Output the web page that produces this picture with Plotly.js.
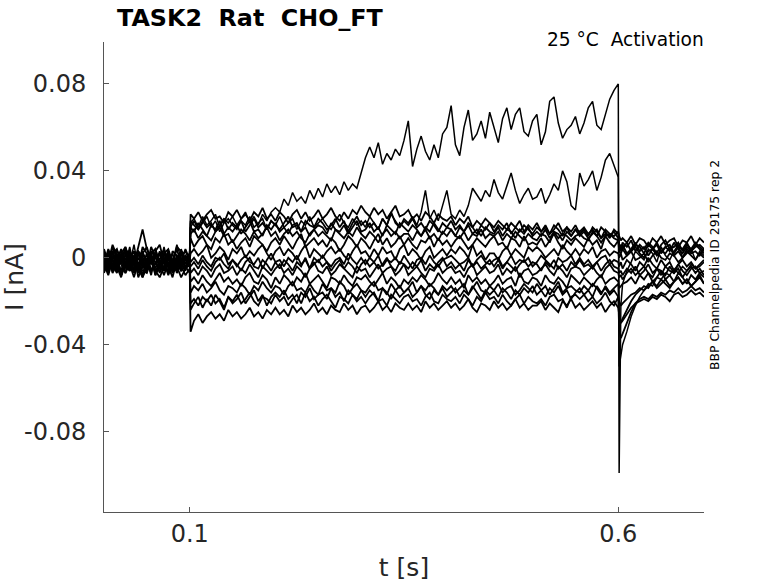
<!DOCTYPE html>
<html>
<head>
<meta charset="utf-8">
<script src="https://cdn.plot.ly/plotly-3.0.1.min.js"></script>
<style>
  html, body { margin: 0; padding: 0; background: #fff; }
  #chart { width: 778px; height: 583px; }
</style>
</head>
<body>
<div id="chart"></div>
<script>
// sample times [s]: holding, voltage step, tail
const tPre = [0, 0.005, 0.01, 0.015, 0.02, 0.025, 0.03, 0.035, 0.04, 0.045,
  0.05, 0.055, 0.06, 0.065, 0.07, 0.075, 0.08, 0.085, 0.09, 0.095, 0.1];
const tStep = [0.101,
  0.105, 0.11, 0.115, 0.12, 0.125, 0.13, 0.135, 0.14, 0.145, 0.15,
  0.155, 0.16, 0.165, 0.17, 0.175, 0.18, 0.185, 0.19, 0.195, 0.2,
  0.205, 0.21, 0.215, 0.22, 0.225, 0.23, 0.235, 0.24, 0.245, 0.25,
  0.255, 0.26, 0.265, 0.27, 0.275, 0.28, 0.285, 0.29, 0.295, 0.3,
  0.305, 0.31, 0.315, 0.32, 0.325, 0.33, 0.335, 0.34, 0.345, 0.35,
  0.355, 0.36, 0.365, 0.37, 0.375, 0.38, 0.385, 0.39, 0.395, 0.4,
  0.405, 0.41, 0.415, 0.42, 0.425, 0.43, 0.435, 0.44, 0.445, 0.45,
  0.455, 0.46, 0.465, 0.47, 0.475, 0.48, 0.485, 0.49, 0.495, 0.5,
  0.505, 0.51, 0.515, 0.52, 0.525, 0.53, 0.535, 0.54, 0.545, 0.55,
  0.555, 0.56, 0.565, 0.57, 0.575, 0.58, 0.585, 0.59, 0.595, 0.6];
const tTail = [0.601, 0.603, 0.605, 0.61, 0.615, 0.62, 0.625, 0.63, 0.635, 0.64,
  0.645, 0.65, 0.655, 0.66, 0.665, 0.67, 0.675, 0.68, 0.685, 0.69, 0.695, 0.7];

// sweep currents, in pA (holding | step | tail)
const iA = [3,-4,5,-1,-6,2,-3,6,-5,1,-7,3,0,-4,5,-3,2,-6,4,-1,-2,
  16,
  18,14,19,15,17,20,14,18,16,19,
  15,18,21,16,19,15,20,17,21,23,
  21,27,24,30,26,28,25,31,27,32,
  28,34,30,33,29,35,31,34,32,39,
  46,51,46,53,43,48,45,50,47,54,
  63,42,50,56,49,45,52,46,57,60,
  70,52,47,60,68,54,57,63,55,67,
  60,53,64,69,59,66,69,58,56,63,
  66,52,58,72,74,62,55,59,61,65,
  57,62,69,72,61,59,66,73,77,80,
  -99,-22,-12,-6,-2,3,1,-1,4,2,-2,5,1,-1,3,6,0,2,4,-1,3,1];
const iB = [-5,2,-6,4,-1,-3,5,-4,1,3,-2,-7,2,-1,4,-5,-2,6,0,-4,1,
  14,
  17,13,16,19,14,17,12,16,18,15,
  13,17,15,19,14,16,18,13,17,15,
  19,14,16,18,13,17,15,19,14,16,
  18,15,13,17,20,16,14,18,15,17,
  14,19,16,13,18,15,20,17,14,18,
  16,19,15,21,31,18,22,17,24,31,
  20,18,22,19,24,32,29,26,31,28,
  36,30,27,33,39,31,25,29,32,27,
  28,32,25,29,34,31,40,35,24,22,
  39,33,36,40,31,37,45,48,42,37,
  -50,-45,-40,-34,-27,-22,-18,-15,-12,-13,-9,-10,-7,-8,-5,-7,-4,-6,-3,-5,-4,-2];
const i01 = [4,-2,6,1,-3,5,-1,3,-4,5,2,-3,3,6,-2,1,-4,5,3,-1,2,
  20,
  18,21,17,20,22,18,19,16,21,19,
  22,18,20,17,21,19,23,18,20,17,
  21,19,16,20,22,18,21,17,19,22,
  18,20,23,19,17,21,18,22,20,24,
  21,19,23,20,22,18,21,24,19,20,
  22,18,20,17,21,19,16,20,18,17,
  19,15,18,16,19,14,17,15,18,16,
  14,17,15,13,16,14,17,12,15,13,
  16,12,14,11,15,13,10,14,12,15,
  11,13,10,14,12,9,13,11,10,12,
  10,8,9,7,10,6,9,8,5,9,7,10,6,8,9,5,8,7,10,6,9,7];
const i02 = [-3,4,-1,-6,2,5,-4,0,3,-2,-6,2,4,-3,-1,3,-5,1,-2,4,-1,
  17,
  15,13,17,14,16,12,15,18,13,16,
  14,17,12,15,18,14,16,13,17,15,
  13,16,19,14,15,12,17,15,14,18,
  16,13,15,18,14,17,12,16,19,15,
  17,14,16,13,18,15,21,16,14,17,
  15,18,14,16,13,17,15,12,16,14,
  17,13,15,12,16,14,11,15,13,16,
  12,15,13,16,11,14,12,15,13,11,
  14,12,15,11,13,16,12,14,10,13,
  12,14,11,13,10,14,12,9,13,11,
  5,6,4,7,3,6,5,2,6,4,7,3,5,6,2,5,4,7,3,5,6,4];
const i12 = [2,-4,5,0,-2,4,-5,1,3,-1,-4,5,0,-3,2,4,-2,-6,1,3,-1,
  14,
  12,16,13,10,15,13,17,11,14,12,
  15,11,14,17,12,13,10,15,13,16,
  12,14,11,15,16,12,14,10,13,15,
  14,11,16,13,12,15,11,14,17,12,
  13,16,12,14,10,15,13,11,16,14,
  12,15,13,10,14,12,16,13,11,14,
  13,10,14,12,15,11,13,10,14,12,
  11,14,10,13,12,9,13,11,14,10,
  12,10,13,9,12,11,8,12,10,13,
  10,12,9,11,13,9,11,10,12,9,
  6,4,7,5,8,3,6,4,7,5,2,6,8,4,5,7,3,6,4,7,5,3];
const i03 = [1,-5,2,4,-3,-7,3,-1,-4,2,5,-2,-3,3,-6,1,-1,-5,3,-3,2,
  11,
  13,9,12,10,8,12,14,10,11,7,
  10,13,11,8,12,9,11,14,10,12,
  8,11,13,10,12,9,7,11,13,10,
  12,10,8,13,11,9,12,10,14,11,
  9,12,10,7,11,13,10,12,9,11,
  11,8,12,10,13,9,11,8,12,10,
  13,10,9,12,8,11,10,13,9,11,
  10,12,8,11,9,12,10,8,11,9,
  8,11,10,7,12,9,11,10,8,10,
  11,9,8,12,10,7,10,11,9,8,
  3,2,4,1,3,5,2,0,3,4,1,3,2,5,1,3,0,4,2,3,1,4];
const i04 = [-3,3,-5,-1,4,-4,1,-6,3,-2,-5,2,4,-3,0,-7,3,1,-4,-1,2,
  9,
  5,8,10,6,4,9,7,11,6,8,
  4,7,9,5,10,8,6,3,7,9,
  6,10,7,4,8,11,5,7,9,6,
  8,5,9,7,3,6,10,8,5,9,
  7,4,8,11,6,9,5,7,10,6,
  9,6,4,8,7,10,5,9,6,8,
  5,8,10,7,4,6,9,7,5,8,
  10,6,7,4,9,8,5,10,6,7,
  6,9,5,8,11,7,4,8,6,9,
  7,5,9,6,8,4,10,7,5,8,
  5,3,6,2,4,7,3,5,1,4,6,2,5,3,7,4,2,5,3,6,4,2];
const i05 = [2,-3,3,-5,0,4,1,-3,5,13,4,-1,-5,2,3,-4,-1,4,-3,1,-1,
  2,
  4,1,3,6,0,2,5,3,-1,4,
  2,5,0,3,1,4,6,2,-1,3,
  5,1,4,2,-1,3,6,0,4,2,
  0,3,5,2,4,1,-1,3,6,2,
  3,0,4,1,5,2,3,-1,4,6,
  1,4,2,-1,3,5,0,2,4,1,
  4,2,5,3,0,6,1,3,-1,2,
  2,-1,3,5,1,4,2,0,5,3,
  5,3,0,2,4,1,6,3,1,4,
  1,4,2,5,0,3,4,1,3,2,
  0,2,-1,1,3,-1,0,2,-2,1,3,0,-1,2,1,-2,0,3,1,-1,2,0];
const i06 = [-5,2,-3,-7,0,3,-6,-2,2,-5,-1,-8,2,-3,-6,3,-5,-1,-2,-6,1,
  -2,
  0,-3,1,-2,-4,0,-1,2,-3,-1,
  -4,-1,1,-2,-3,0,-5,-1,2,-2,
  -1,-4,0,-2,1,-3,-1,-5,0,-2,
  1,-2,-4,-1,0,-3,2,-1,-3,0,
  -3,0,-2,1,-4,-1,-2,0,-3,1,
  -2,-5,-1,0,-3,1,-2,-4,-1,0,
  1,-1,-3,-2,0,-4,-1,1,-2,-3,
  -1,0,-4,-2,1,-3,-1,-2,0,-4,
  -2,1,-1,-3,-5,0,-2,-1,1,-3,
  0,-3,-1,-4,-2,0,1,-3,-1,-2,
  -4,-2,-5,-1,-3,-6,-2,-4,0,-3,-5,-1,-4,-2,-6,-3,-1,-4,-2,-5,-3,-1];
const i13 = [-4,1,-6,-2,2,-5,-1,-7,0,-3,-6,1,-2,-5,2,-4,-1,-7,-3,0,-4,
  -4,
  -2,-5,-1,-4,-6,-2,0,-3,-5,-1,
  -3,-6,-2,0,-4,-5,-1,-3,-6,-2,
  -5,-1,-3,-6,-2,-4,0,-5,-3,-1,
  -4,-2,-6,-3,-1,-5,-2,-4,-7,-3,
  -1,-4,-2,-5,-3,0,-4,-6,-2,-3,
  -5,-2,-4,-1,-6,-3,-5,-2,0,-4,
  -2,-5,-3,-6,-1,-4,-2,-5,-3,-1,
  -4,-1,-5,-2,-4,-6,-3,-1,-4,-2,
  -3,-6,-2,-4,-1,-5,-3,-6,-2,-4,
  -1,-4,-3,-5,-2,-6,-3,-1,-4,-5,
  -7,-6,-8,-5,-7,-4,-8,-6,-3,-7,-5,-8,-4,-6,-7,-3,-6,-8,-5,-4,-7,-6];
const i07 = [1,-6,3,-2,-8,2,-4,0,-7,2,-3,3,-8,-1,-5,1,-6,-3,3,-5,-1,
  -7,
  -5,-8,-4,-6,-9,-5,-3,-7,-6,-4,
  -8,-5,-7,-3,-6,-9,-4,-6,-8,-5,
  -3,-7,-5,-8,-4,-6,-9,-5,-2,-6,
  -7,-4,-8,-6,-3,-5,-7,-9,-4,-6,
  -5,-9,-6,-3,-7,-5,-4,-8,-6,-3,
  -8,-6,-4,-7,-9,-5,-6,-3,-7,-5,
  -4,-7,-6,-9,-5,-3,-8,-6,-4,-7,
  -6,-3,-8,-5,-7,-4,-9,-6,-5,-8,
  -7,-5,-3,-6,-8,-4,-6,-9,-5,-4,
  -5,-8,-6,-4,-7,-9,-5,-3,-6,-7,
  -9,-8,-10,-7,-5,-8,-6,-4,-7,-9,-5,-6,-8,-4,-7,-5,-9,-6,-4,-7,-5,-8];
const i08 = [-6,0,-4,2,-8,-2,-6,1,-9,-3,2,-6,-2,-7,0,-4,-9,-1,-6,1,-3,
  -11,
  -9,-12,-8,-11,-13,-10,-7,-11,-9,-12,
  -10,-13,-9,-7,-11,-12,-8,-10,-14,-9,
  -12,-8,-10,-13,-9,-11,-7,-12,-10,-8,
  -11,-14,-9,-10,-12,-8,-11,-13,-9,-10,
  -8,-11,-13,-10,-7,-12,-9,-11,-14,-10,
  -12,-9,-11,-8,-10,-13,-11,-7,-10,-12,
  -9,-12,-10,-14,-8,-11,-9,-12,-10,-13,
  -11,-8,-12,-10,-9,-13,-7,-11,-12,-9,
  -10,-13,-8,-11,-12,-9,-11,-14,-8,-10,
  -12,-9,-11,-13,-10,-8,-12,-10,-9,-11,
  -14,-13,-12,-11,-9,-12,-8,-10,-7,-11,-9,-6,-10,-8,-11,-7,-9,-12,-8,-10,-7,-9];
const i09 = [-2,-7,1,-4,-9,-2,2,-6,-3,-8,0,-2,-6,-9,-4,1,-7,-2,-4,-8,-5,
  -16,
  -13,-15,-12,-16,-14,-11,-15,-17,-13,-14,
  -16,-12,-14,-17,-13,-15,-11,-14,-16,-13,
  -14,-17,-13,-11,-15,-14,-16,-12,-15,-17,
  -12,-15,-14,-16,-11,-13,-17,-14,-12,-15,
  -16,-13,-11,-15,-14,-17,-12,-15,-13,-16,
  -14,-11,-16,-13,-15,-12,-14,-17,-13,-15,
  -13,-16,-14,-12,-17,-14,-11,-15,-16,-13,
  -15,-12,-16,-14,-13,-17,-15,-12,-14,-16,
  -12,-15,-13,-17,-14,-11,-16,-14,-13,-15,
  -16,-13,-15,-12,-14,-17,-13,-16,-14,-12,
  -28,-30,-28,-24,-20,-17,-15,-13,-14,-11,-13,-10,-12,-14,-11,-9,-12,-10,-13,-11,-9,-12];
const i14 = [-5,-1,-7,-3,-8,0,-4,-6,-2,-9,-4,-1,-6,-3,-8,-2,-5,0,-6,-4,-7,
  -24,
  -21,-18,-23,-19,-22,-17,-20,-24,-18,-21,
  -19,-16,-21,-18,-15,-20,-17,-22,-18,-16,
  -18,-15,-19,-17,-21,-16,-18,-14,-19,-17,
  -16,-19,-14,-18,-16,-20,-15,-17,-19,-15,
  -18,-15,-17,-20,-14,-16,-19,-15,-18,-16,
  -14,-18,-16,-13,-17,-19,-15,-17,-14,-18,
  -16,-14,-18,-15,-17,-13,-16,-19,-15,-17,
  -15,-18,-14,-16,-19,-15,-17,-14,-16,-13,
  -17,-15,-18,-14,-16,-13,-17,-15,-19,-16,
  -14,-17,-15,-18,-13,-16,-14,-17,-15,-18,
  -20,-22,-21,-19,-17,-16,-14,-15,-13,-11,-14,-12,-10,-13,-11,-9,-12,-10,-13,-11,-8,-12];
const i10 = [-3,-8,-1,-5,1,-7,-3,-9,-2,-6,-7,-1,-8,-3,-5,0,-7,-4,-9,-5,-2,
  -21,
  -19,-22,-18,-20,-17,-21,-19,-23,-18,-20,
  -17,-21,-19,-16,-20,-22,-18,-19,-21,-17,
  -20,-18,-22,-19,-17,-21,-16,-20,-18,-22,
  -19,-17,-20,-23,-18,-19,-21,-17,-20,-18,
  -21,-18,-16,-20,-19,-22,-17,-19,-21,-18,
  -17,-20,-19,-22,-18,-16,-20,-21,-17,-19,
  -20,-18,-21,-17,-19,-22,-18,-20,-16,-19,
  -18,-21,-17,-20,-22,-19,-17,-21,-18,-20,
  -21,-19,-22,-18,-17,-20,-19,-23,-18,-17,
  -19,-17,-20,-18,-21,-19,-16,-20,-22,-18,
  -33,-37,-35,-30,-25,-21,-19,-18,-19,-17,-18,-16,-17,-15,-16,-14,-16,-15,-13,-15,-14,-16];
const i11 = [-7,-2,-5,1,-8,-3,-6,-1,-5,-9,-3,0,-7,-5,-2,-8,-3,-6,0,-5,-3,
  -34,
  -29,-26,-30,-27,-25,-28,-26,-29,-24,-27,
  -25,-28,-26,-23,-27,-25,-28,-24,-26,-23,
  -26,-24,-27,-22,-25,-23,-26,-24,-21,-25,
  -23,-26,-22,-24,-25,-21,-24,-22,-26,-23,
  -22,-25,-23,-20,-24,-22,-25,-21,-23,-24,
  -21,-24,-22,-25,-20,-23,-21,-24,-22,-20,
  -23,-21,-24,-22,-19,-23,-25,-21,-22,-24,
  -20,-23,-21,-24,-22,-19,-23,-21,-24,-22,
  -22,-20,-24,-21,-23,-25,-20,-22,-19,-23,
  -21,-24,-22,-20,-23,-21,-25,-22,-20,-23,
  -26,-30,-29,-26,-23,-21,-20,-19,-20,-18,-19,-17,-18,-20,-17,-16,-18,-17,-15,-17,-16,-18];

const xTickVals = [0.1, 0.6];
const xTickText = ["0.1", "0.6"];
const yTickVals = [-0.08, -0.04, 0, 0.04, 0.08];
const yTickText = ["-0.08", "-0.04", "0", "0.04", "0.08"];

const bandSweeps = [i11, i10, i14, i09, i08, i07, i13, i06, i05, i04, i03, i12, i02, i01];
const bigSweeps = [iB, iA];
const t = tPre.concat(tStep, tTail);

function sweepTrace(s, w) {
  return {
    x: t,
    y: s.map((v) => v / 1000), // pA -> nA
    type: "scatter",
    mode: "lines",
    line: { color: "#000", width: w },
    hoverinfo: "skip",
  };
}

const traces = bandSweeps.map((s) => sweepTrace(s, 1.8))
  .concat(bigSweeps.map((s) => sweepTrace(s, 1.5)));

const fam = "DejaVu Sans, sans-serif";
const ink = "#262626";
const nb = "\u00a0";

const layout = {
  width: 778,
  height: 583,
  margin: { l: 104, r: 74, t: 42, b: 71 },
  paper_bgcolor: "#fff",
  plot_bgcolor: "#fff",
  showlegend: false,
  font: { family: fam, color: ink },
  title: {
    text: "<b>TASK2" + nb + nb + "Rat" + nb + nb + "CHO_FT</b>",
    font: { family: fam, size: 23.8, color: "#000" },
    xref: "container",
    x: 117 / 778,
    xanchor: "left",
    yref: "container",
    y: 1 - 18 / 583,
    yanchor: "middle",
  },
  xaxis: {
    range: [0, 0.7],
    tickvals: xTickVals,
    ticktext: xTickText,
    ticks: "inside",
    ticklen: 5,
    tickwidth: 1,
    tickcolor: "#555",
    showline: true,
    linecolor: "#555",
    linewidth: 1,
    showgrid: false,
    zeroline: false,
    tickfont: { family: fam, size: 24, color: ink },
    title: { text: "t [s]", font: { family: fam, size: 25, color: ink }, standoff: 11 },
  },
  yaxis: {
    range: [-0.117, 0.0993],
    tickvals: yTickVals,
    ticktext: yTickText,
    ticks: "inside",
    ticklen: 5,
    tickwidth: 1,
    tickcolor: "#555",
    showline: true,
    linecolor: "#555",
    linewidth: 1,
    showgrid: false,
    zeroline: false,
    ticklabelstandoff: 12,
    tickfont: { family: fam, size: 24, color: ink },
    title: { text: "I [nA]", font: { family: fam, size: 25, color: ink }, standoff: 14 },
  },
  annotations: [
    {
      text: "25 °C" + nb + nb + "Activation",
      xref: "paper", yref: "paper",
      x: 1.003, y: (512 - 39) / 470,
      xanchor: "right", yanchor: "middle",
      showarrow: false,
      font: { family: fam, size: 18.6, color: "#000" },
    },
    {
      text: "BBP Channelpedia ID 29175 rep 2",
      xref: "paper", yref: "paper",
      x: (714 - 104) / 600, y: (512 - 265) / 470,
      xanchor: "center", yanchor: "middle",
      textangle: -90,
      showarrow: false,
      font: { family: fam, size: 12.4, color: "#000" },
    },
  ],
};

Plotly.newPlot("chart", traces, layout, { staticPlot: true });
</script>
</body>
</html>
